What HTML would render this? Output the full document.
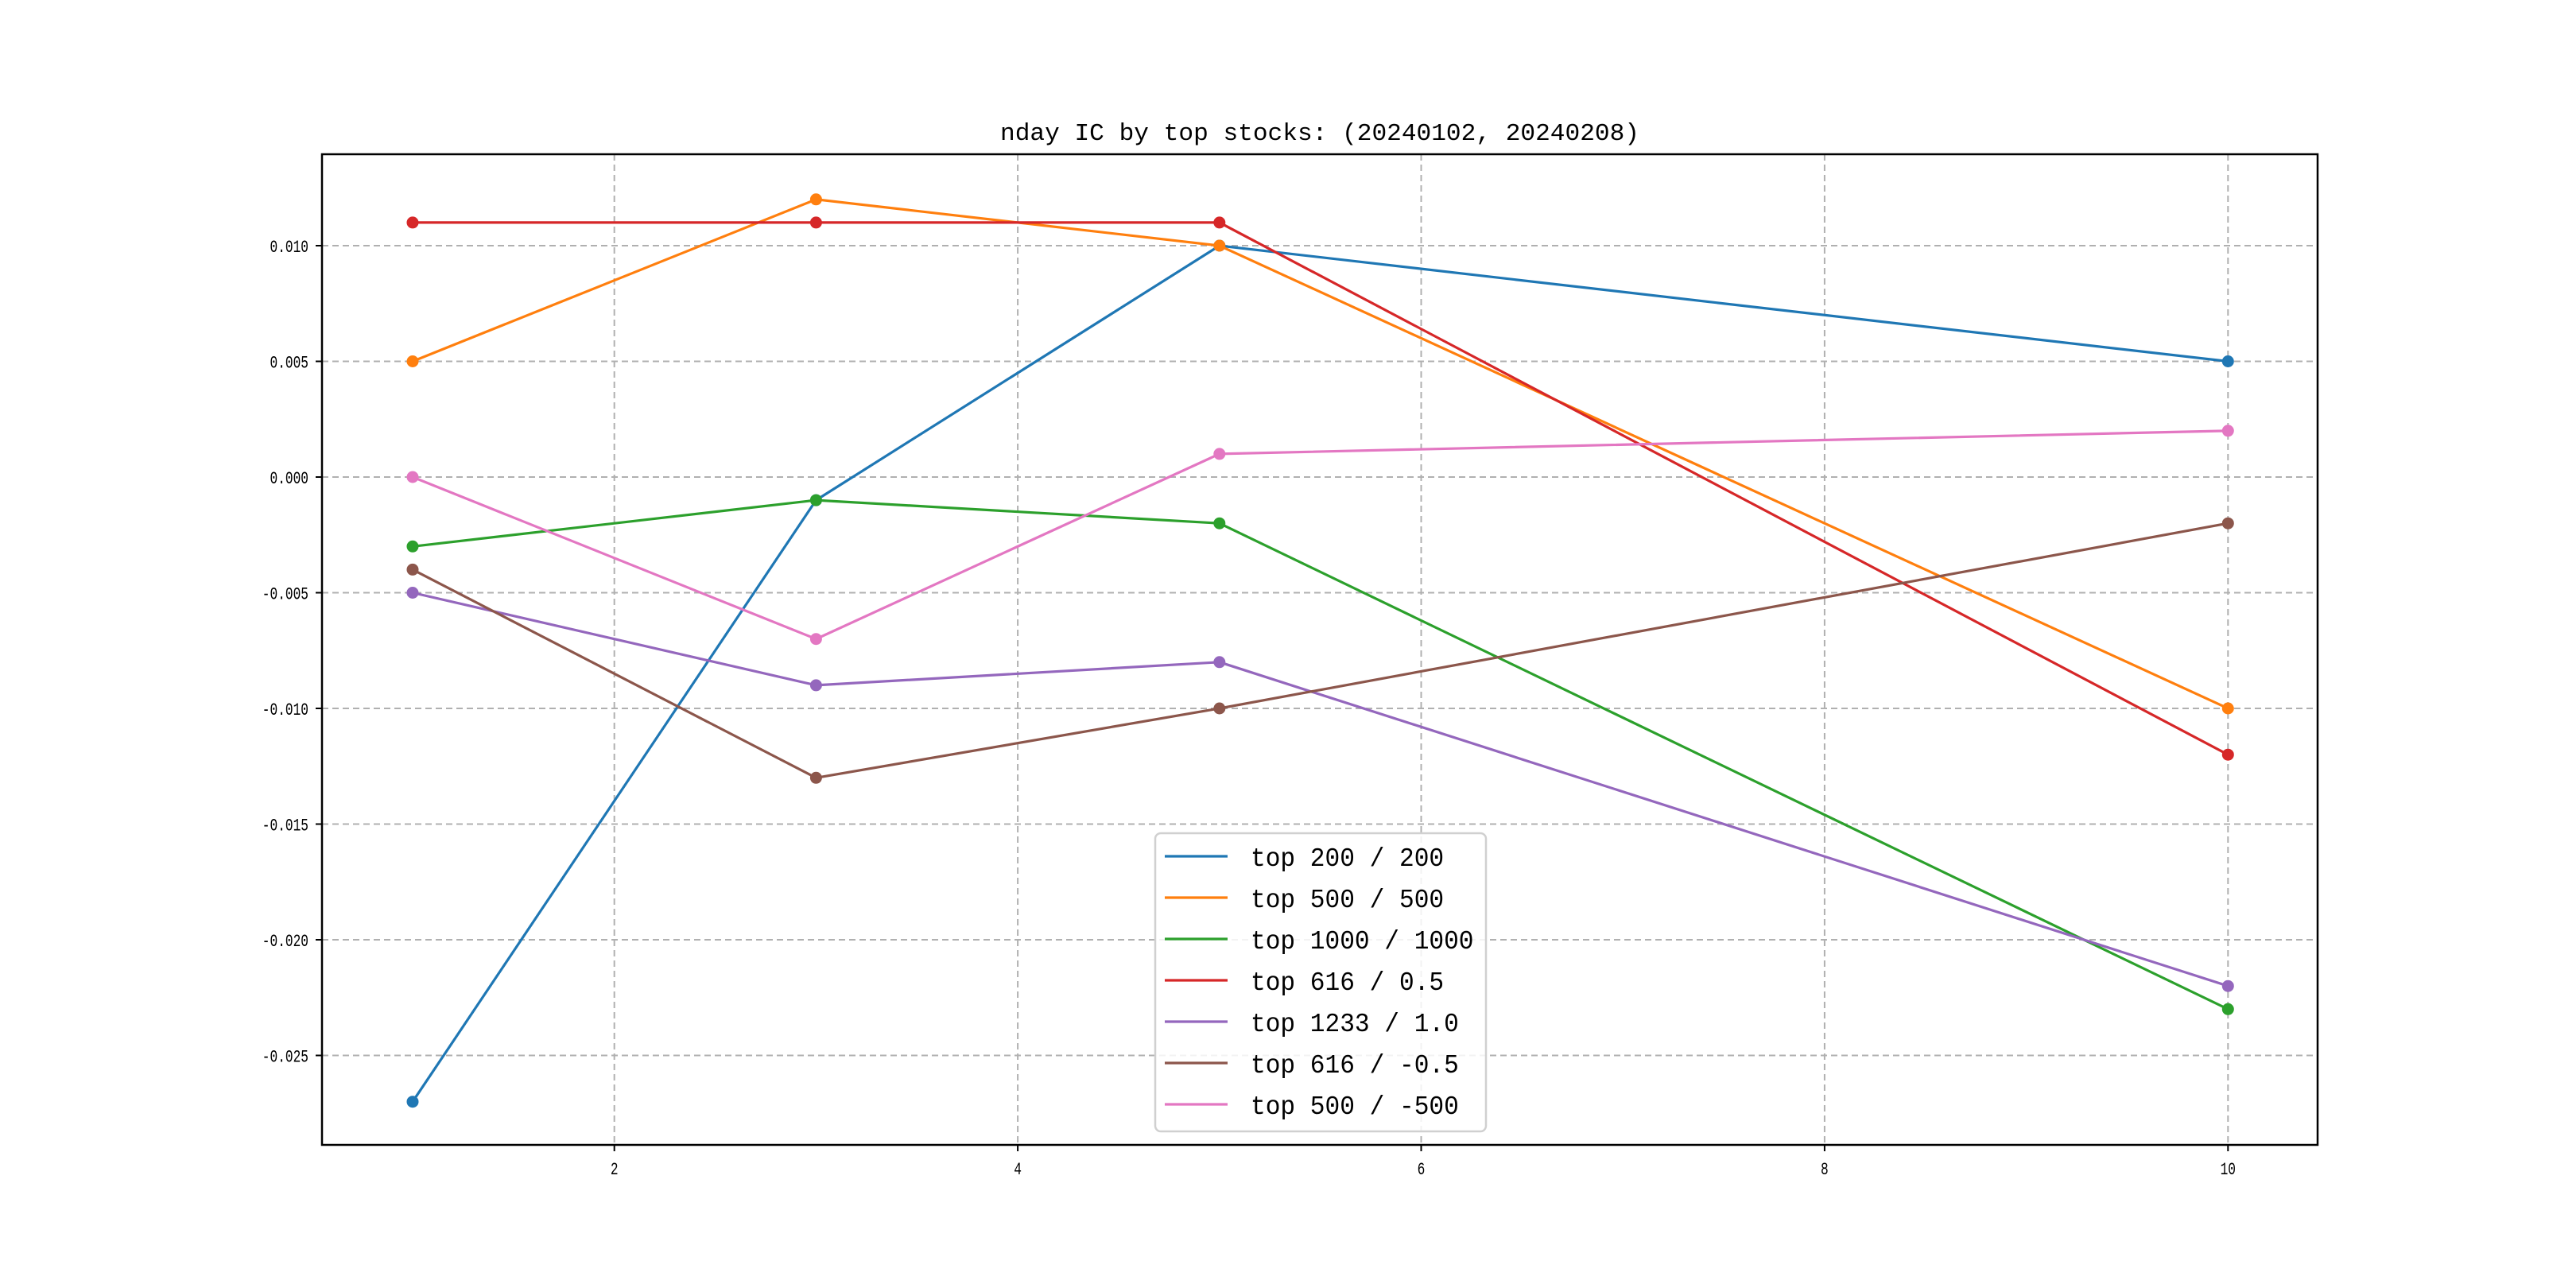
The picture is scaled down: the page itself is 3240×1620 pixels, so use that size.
<!DOCTYPE html>
<html><head><meta charset="utf-8"><style>
html,body{margin:0;padding:0;background:#fff;}
svg{display:block;}
</style></head><body>
<svg id="chart" width="3240" height="1620" viewBox="0 0 3240 1620" xmlns="http://www.w3.org/2000/svg">
<rect width="3240" height="1620" fill="#fff"/>
<text x="1660" y="176" text-anchor="middle" style="font-family:'Liberation Mono','Noto Sans CJK SC',monospace;font-size:31px" textLength="804" lengthAdjust="spacingAndGlyphs">nday IC by top stocks: (20240102, 20240208)</text>
<g id="grid"></g><g id="series"></g><g id="axes"></g><g id="legend"></g>
</svg>
<script>
const xValues = [1, 3, 5, 10];
const seriesNames = ["top 200 / 200","top 500 / 500","top 1000 / 1000","top 616 / 0.5","top 1233 / 1.0","top 616 / -0.5","top 500 / -500"];
const seriesColors = ["#1f77b4","#ff7f0e","#2ca02c","#d62728","#9467bd","#8c564b","#e377c2"];
const s0 = [-0.027, -0.001, 0.010, 0.005];
const s1 = [0.005, 0.012, 0.010, -0.010];
const s2 = [-0.003, -0.001, -0.002, -0.023];
const s3 = [0.011, 0.011, 0.011, -0.012];
const s4 = [-0.005, -0.009, -0.008, -0.022];
const s5 = [-0.004, -0.013, -0.010, -0.002];
const s6 = [0.000, -0.007, 0.001, 0.002];
const seriesValues = [s0,s1,s2,s3,s4,s5,s6];
const xTicks = [2,4,6,8,10];
const yTicks = [0.010,0.005,0.000,-0.005,-0.010,-0.015,-0.020,-0.025];
const yTickLabels = ["0.010","0.005","0.000","-0.005","-0.010","-0.015","-0.020","-0.025"];

const L=405,R=2915,T=194,B=1440;
function sx(v){return 519+(v-1)*253.7;}
function sy(v){return 600-v/0.005*145.5;}
const NS="http://www.w3.org/2000/svg";
const MONO="font-family:'Liberation Mono','Noto Sans CJK SC',monospace;";
function mk(tag,attrs,parent){const e=document.createElementNS(NS,tag);for(const k in attrs)e.setAttribute(k,attrs[k]);parent.appendChild(e);return e;}
const grid=document.getElementById('grid'),ser=document.getElementById('series'),ax=document.getElementById('axes'),lg=document.getElementById('legend');
xTicks.forEach(t=>{
  const l=mk('line',{x1:sx(t),x2:sx(t),y1:T,y2:B,stroke:'#b0b0b0','stroke-width':2,'stroke-dasharray':'8,5'},grid);
  
  
  const tk=mk('line',{x1:sx(t),x2:sx(t),y1:B,y2:B+8,stroke:'#000','stroke-width':2},ax);
  
  
  const s=String(t);
  const tx=mk('text',{x:sx(t),y:B+37,'text-anchor':'middle',style:MONO+'font-size:22px',textLength:s.length*9.7,lengthAdjust:'spacingAndGlyphs'},ax);
  tx.textContent=s;
  
  
});
yTicks.forEach((t,i)=>{
  const l=mk('line',{x1:L,x2:R,y1:sy(t),y2:sy(t),stroke:'#b0b0b0','stroke-width':2,'stroke-dasharray':'8,5'},grid);
  
  
  const tk=mk('line',{x1:L-8,x2:L,y1:sy(t),y2:sy(t),stroke:'#000','stroke-width':2},ax);
  
  
  const s=yTickLabels[i];
  const tx=mk('text',{x:L-17,y:sy(t)+8,'text-anchor':'end',style:MONO+'font-size:22px',textLength:s.length*9.7,lengthAdjust:'spacingAndGlyphs'},ax);
  tx.textContent=s;
  
  
});
const frame=mk('rect',{x:L,y:T,width:R-L,height:B-T,fill:'none',stroke:'#000','stroke-width':2.5},ax);


seriesValues.forEach((vals,si)=>{
  const g=mk('g',{},ser);
  
  
  const pts=vals.map((v,i)=>sx(xValues[i])+','+sy(v)).join(' ');
  const pl=mk('polyline',{points:pts,fill:'none',stroke:seriesColors[si],'stroke-width':3.2},g);
  
  
  vals.forEach((v,i)=>{
    const c=mk('circle',{cx:sx(xValues[i]),cy:sy(v),r:7.5,fill:seriesColors[si]},g);
    
    
  });
});
const box=mk('rect',{x:1453,y:1048,width:416,height:375,rx:7,fill:'#fff','fill-opacity':0.85,stroke:'#d0d0d0','stroke-width':2.5},lg);


seriesNames.forEach((n,i)=>{
  const y=1077+i*52;
  const g=mk('g',{},lg);
  
  
  const l=mk('line',{x1:1465,x2:1544,y1:y,y2:y,stroke:seriesColors[i],'stroke-width':3.2},g);
  
  
  const t=mk('text',{x:1573,y:y+12,style:MONO+'font-size:33px',textLength:n.length*18.7,lengthAdjust:'spacingAndGlyphs'},g);
  t.textContent=n;
  
  
});
</script>
</body></html>
